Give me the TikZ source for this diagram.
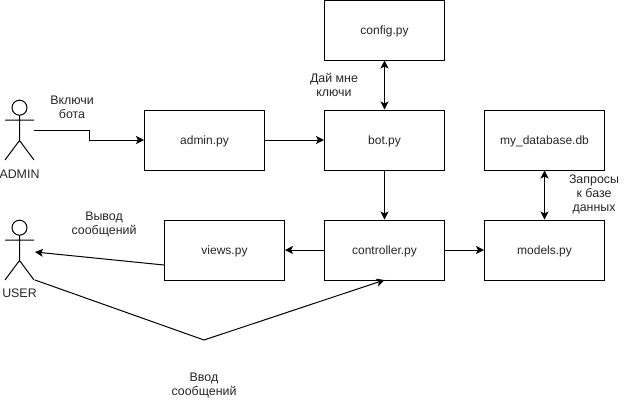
\documentclass[tikz,border=0pt]{standalone}
\usepackage{fontspec}
\setmainfont{Liberation Sans}
\usetikzlibrary{arrows.meta}
\tikzset{
  px/.style={x=0.75pt,y=-0.75pt},
  modbox/.style={draw=black,line width=0.75pt,minimum width=90pt,minimum height=45pt,inner sep=0pt,text height=6pt,text depth=0pt,font=\fontsize{9}{10.5}\selectfont,text=black!85},
  lab/.style={align=center,inner sep=0pt,font=\fontsize{9.3}{10.5}\selectfont,text=black!85},
  conn/.style={draw=black,line width=0.75pt,-{Stealth[length=6pt,width=6pt,inset=1.5pt]}},
  biconn/.style={draw=black,line width=0.75pt,{Stealth[length=6pt,width=6pt,inset=1.5pt]}-{Stealth[length=6pt,width=6pt,inset=1.5pt]}},
  plain/.style={draw=black,line width=0.75pt},
}
\begin{document}
\begin{tikzpicture}[px]
\useasboundingbox (0,0) rectangle (625,401);
\fill[white] (0,0) rectangle (625,401);
% boxes
\node[modbox] (config) at (384.5,30) {config.py};
\node[modbox] (bot) at (384.5,140) {bot.py};
\node[modbox] (controller) at (384.5,250) {controller.py};
\node[modbox] (db) at (544.5,140) {my\_database.db};
\node[modbox] (models) at (544.5,250) {models.py};
\node[modbox] (admin) at (204.5,140) {admin.py};
\node[modbox] (views) at (224.5,250) {views.py};
% admin actor
\draw[plain] (19.5,107.7) circle (7.5);
\draw[plain] (19.5,115.2) -- (19.5,140.5) (5,120) -- (34,120) (5,160) -- (19.5,140.5) -- (34,160);
\node[lab] (adminlab) at (19.5,174.5) {ADMIN};
% user actor
\draw[plain] (19.5,227.7) circle (7.5);
\draw[plain] (19.5,235.2) -- (19.5,260.5) (5,240) -- (34,240) (5,280) -- (19.5,260.5) -- (34,280);
\node[lab] (userlab) at (19.5,293.5) {USER};
% anchors
\coordinate (adminhand) at (34,130);
\coordinate (usertop) at (35,252);
\coordinate (userfoot) at (35,280);
\coordinate (bend) at (204,340);
\coordinate (ctrlbot) at (384.5,280);
% connectors
\draw[conn] (adminhand) -- (89.5,130) -- (89.5,140) -- (admin.west);
\draw[conn] (admin.east) -- (bot.west);
\draw[biconn] (config.south) -- (bot.north);
\draw[conn] (bot.south) -- (controller.north);
\draw[conn] (controller.west) -- (views.east);
\draw[conn] (controller.east) -- (models.west);
\draw[biconn] (db.south) -- (models.north);
\draw[conn] (views.west |- 0,265) -- (usertop);
\draw[conn] (userfoot) -- (bend) -- (ctrlbot);
% labels
\node[lab] (l1) at (72,107) {Включи\\бота};
\node[lab] (l2) at (334,85) {Дай мне\\ключи};
\node[lab] (l3) at (594,194.5) {Запросы\\к базе\\данных};
\node[lab] (l4) at (104,224.5) {Вывод\\сообщений};
\node[lab] (l5) at (204,385) {Ввод\\сообщений};
\end{tikzpicture}
\end{document}
